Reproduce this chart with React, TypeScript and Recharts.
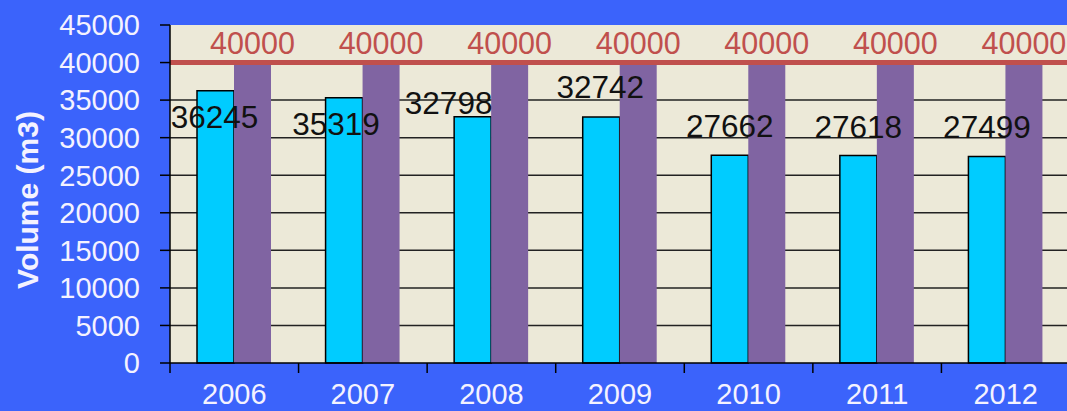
import { BarChart, Bar, XAxis, YAxis, CartesianGrid, ReferenceLine, LabelList } from "recharts";

const years = ["2006", "2007", "2008", "2009", "2010", "2011", "2012"];
const volumes = [36245, 35319, 32798, 32742, 27662, 27618, 27499];
const capacity = [40000, 40000, 40000, 40000, 40000, 40000, 40000];
const yTicks = [0, 5000, 10000, 15000, 20000, 25000, 30000, 35000, 40000, 45000];
const capacityLine = 40000;

// label nudges (dx, dy from the bar top) to mimic the original placement
const labelNudge = [
  [-1, 37], [-8, 37], [-24, -3], [-1, -19], [0, -18], [0, -18], [0, -18],
];

const data = years.map((year, i) => ({ year, volume: volumes[i], capacity: capacity[i] }));

const FONT = "'Liberation Sans', Arial, sans-serif";
const TEXT = "#f4f2ff";
const X_TICK = 10;
const X_GAP = 10;

const VolumeLabel = (props: any) => {
  const { x, y, width, value, index } = props;
  const [dx, dy] = labelNudge[index] ?? [0, -8];
  return (
    <text x={x + width / 2 + dx} y={y + dy} textAnchor="middle" fill="#111" fontSize={31.5} fontFamily={FONT}>
      {value}
    </text>
  );
};

// year label plus tick marks on the category boundaries
const YearTick = (props: any) => {
  const { x, y, payload, index, visibleTicksCount } = props;
  const half = payload?.offset ?? 0;
  const top = y - X_TICK - X_GAP;
  const last = index === (visibleTicksCount ?? years.length) - 1;
  return (
    <g>
      {half > 0 && <line x1={x - half} x2={x - half} y1={top} y2={top + X_TICK} stroke="#000" strokeWidth={1.5} />}
      {half > 0 && last && <line x1={x + half} x2={x + half} y1={top} y2={top + X_TICK} stroke="#000" strokeWidth={1.5} />}
      <text x={x} y={y} dy="0.72em" textAnchor="middle" fill={TEXT} fontSize={29} fontFamily={FONT}>
        {payload.value}
      </text>
    </g>
  );
};

const AxisTitle = (props: any) => {
  const { viewBox } = props;
  const cx = viewBox.x + 27;
  const cy = viewBox.y + viewBox.height / 2 + 6;
  return (
    <text
      x={cx}
      y={cy}
      transform={`rotate(-90 ${cx} ${cy})`}
      textAnchor="middle"
      dominantBaseline="central"
      fill={TEXT}
      fontSize={30}
      fontWeight="bold"
      fontFamily={FONT}
    >
      Volume (m3)
    </text>
  );
};

export default function App() {
  return (
    <div style={{ position: "absolute", left: 0, top: 0, width: 1067, height: 411, overflow: "hidden", background: "#3b63fb" }}>
      <BarChart
        width={1070}
        height={411}
        data={data}
        margin={{ top: 25, right: 0, bottom: 0, left: 0 }}
        barGap={0}
        barSize={37}
      >
        <CartesianGrid
          vertical={false}
          fill="#ece9d8"
          stroke="#222"
          strokeWidth={1.5}
          horizontalValues={yTicks.slice(1, -1)}
        />
        <XAxis
          dataKey="year"
          height={48}
          interval={0}
          axisLine={{ stroke: "#000", strokeWidth: 1.5 }}
          tickLine={false}
          tickSize={X_TICK}
          tickMargin={X_GAP}
          tick={<YearTick />}
        />
        <YAxis
          width={170}
          domain={[0, 45000]}
          ticks={yTicks}
          interval={0}
          tickSize={10}
          tickMargin={20}
          axisLine={{ stroke: "#000", strokeWidth: 1.5 }}
          tickLine={{ stroke: "#000", strokeWidth: 1.5 }}
          tick={{ fill: TEXT, fontSize: 29, fontFamily: FONT }}
          label={<AxisTitle />}
        />
        <Bar dataKey="volume" fill="#00ccff" stroke="#000" strokeWidth={1.5} isAnimationActive={false}>
          <LabelList dataKey="volume" content={<VolumeLabel />} />
        </Bar>
        <Bar dataKey="capacity" fill="#8064a2" isAnimationActive={false}>
          <LabelList dataKey="capacity" position="top" offset={9} fill="#c0504d" fontSize={30.5} fontFamily={FONT} />
        </Bar>
        <ReferenceLine y={capacityLine} stroke="#c0504d" strokeWidth={5} />
      </BarChart>
    </div>
  );
}
